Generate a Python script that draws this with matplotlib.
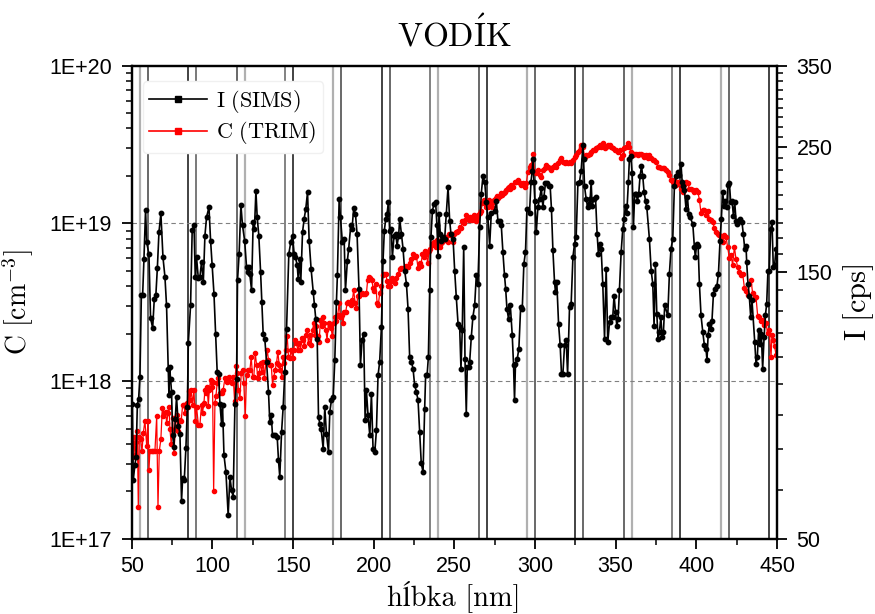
import numpy as np
import matplotlib
matplotlib.use("Agg")
import matplotlib.pyplot as plt
from matplotlib.lines import Line2D
from matplotlib.ticker import FuncFormatter, LogLocator, NullFormatter, FixedLocator, MultipleLocator

plt.rcParams['mathtext.fontset'] = 'cm'

# I (SIMS) -- depth [nm], intensity [cps]
sims_depth = [50.4, 51.0, 52.0, 52.7, 53.5, 54.3, 55.1, 56.0, 56.8, 57.6, 58.6, 59.3, 60.7, 61.7, 63.0, 64.0, 65.0, 65.9,
              66.9, 68.1, 69.4, 70.6, 71.6, 72.7, 73.1, 73.5, 74.1, 74.7, 75.4, 76.2, 77.0, 77.8, 78.9, 79.9, 80.9, 81.6,
              82.6, 83.6, 84.5, 85.1, 86.5, 87.5, 88.6, 89.4, 90.2, 91.3, 92.3, 93.3, 94.4,
              95.4, 96.4, 97.9, 98.9, 99.9, 101.0, 102.0, 103.0, 103.9, 104.7, 105.7, 106.3, 107.2, 108.4, 109.8, 110.9,
              111.9, 112.9, 114.0, 115.0, 115.6, 116.6, 117.7, 118.7, 120.0, 121.2, 121.8, 122.6, 123.2, 124.3, 125.3,
              126.1, 127.0, 127.8, 128.8, 129.9, 130.7, 131.5, 132.5, 133.6, 134.8, 135.6, 136.5, 137.3, 138.7, 140.2,
              141.0, 141.8, 142.9, 143.9, 144.9, 146.0, 147.4, 148.6, 149.7, 150.7, 151.5, 152.6, 153.2, 154.2, 154.8,
              155.9, 156.9, 157.9, 159.0, 160.0, 161.2, 162.5, 163.3, 164.1, 165.0, 165.8, 166.6, 167.4, 168.7, 169.7,
              170.7, 172.0, 172.8, 173.8, 174.9, 175.9, 176.9, 177.5, 178.6, 179.4, 180.6, 181.7, 182.5, 183.7, 184.5,
              185.8, 186.6, 187.6, 188.7, 189.7,
              190.9, 191.8, 192.8, 193.8, 194.7, 195.5, 196.5, 197.6, 198.6, 199.6, 200.7, 201.7, 202.7, 203.7, 204.8,
              205.8, 206.6, 207.5, 208.3, 209.1, 209.9, 210.8, 211.6, 212.6, 213.7, 214.5, 215.5, 216.1, 217.2, 218.2,
              219.2, 220.3, 221.3, 222.3, 223.4, 224.4, 225.4, 226.5, 227.5, 228.5, 229.5, 230.6, 231.6, 232.2, 233.1,
              233.9, 234.7, 235.5, 236.4, 237.4, 238.4, 239.2, 239.9, 240.5, 241.3, 241.9, 243.0, 244.0, 245.0, 246.1,
              247.1, 247.9, 249.2, 250.2, 251.2, 252.3, 253.3, 254.1, 254.9, 255.8, 256.6, 257.4, 258.0, 258.9, 259.5,
              260.5, 261.5, 262.6, 263.6, 264.6, 265.7, 266.7, 267.7, 268.8, 269.8, 270.8, 271.9, 272.9, 275.0, 276.0,
              277.0, 278.1, 279.1, 280.1, 281.1, 281.8, 282.6, 283.6,
              284.7, 285.9, 286.7, 287.3, 287.9, 289.0, 290.0, 291.1, 292.1, 293.1, 294.1, 295.0, 296.6, 297.5, 298.3,
              298.7, 299.3, 299.9, 300.8, 301.8, 302.8, 303.9, 304.9, 305.5, 306.5, 307.4, 308.6, 309.4, 310.2, 311.1,
              312.1, 312.7, 313.5, 314.6, 315.6, 316.4, 317.3, 318.3, 319.3, 320.2, 321.4, 322.4, 323.5, 324.5, 325.5,
              326.6, 327.6, 328.6, 329.7, 330.1, 330.7, 331.7, 332.7, 333.4, 334.2, 334.8, 335.4, 336.5, 337.5, 338.5,
              339.3, 340.0, 341.0, 342.0, 343.1, 344.1, 345.1, 346.2, 347.2, 348.2, 349.0, 349.9, 350.7, 351.5, 352.3,
              353.4, 354.4, 355.2, 356.1, 356.9, 357.9, 358.5, 359.4, 360.2, 361.0, 361.8, 362.7, 363.5, 364.3, 365.1,
              366.0, 366.8, 367.6, 368.5, 369.3,
              370.9, 372.0, 373.0, 373.8, 374.6, 375.5, 376.3, 377.1, 378.0, 378.8, 379.6, 380.4, 382.3, 383.3, 384.3,
              385.4, 386.4, 387.4, 388.5, 389.5, 390.5, 391.2, 392.0, 392.6, 393.6, 394.5, 395.3, 396.1, 397.8, 398.8,
              399.4, 400.2, 401.1, 401.9, 402.9, 404.0, 405.0, 406.0, 406.6, 407.3, 408.1, 409.1, 409.7, 410.6, 411.8,
              412.8, 413.7, 414.7, 415.5, 416.3, 417.2, 418.0, 418.8, 419.6, 420.5, 421.3, 422.1, 423.0, 423.8, 424.6,
              425.4, 426.2, 427.1, 428.3, 429.1, 430.0, 430.8, 431.2, 432.0, 432.8, 433.7, 434.5, 436.2, 437.0, 437.8,
              438.6, 439.5, 440.3, 441.1, 442.0, 442.8, 443.6, 444.4, 445.2, 446.1, 446.9, 447.7, 448.5, 449.4]
sims_cps = [87, 63.8, 67.8, 70, 86.6, 89, 97.3, 136.5, 136.5, 158, 193.5, 169.3, 161, 124, 119, 134, 136.5, 152,
            176.4, 190.6, 159, 147, 130.6, 100.7, 90.2, 101.4, 96.6, 91.5, 76.5, 73, 81.9, 89.6, 79.7, 77.1, 58.5, 64.3,
            63.8, 72.6, 86, 111.9, 130.6, 177.8, 182, 147, 159, 146, 147, 156, 143.7,
            174, 187.6, 195.5, 170.5, 153.9, 137, 116.2, 99.3, 98.6, 87.2, 80.3, 86.6, 70.6, 65.9, 55.2, 64.5,
            61.1, 59.5, 87.2, 96.6, 144.7, 161.4, 197.4, 181.4, 170.5, 152.8, 149.7, 152.8, 148.7, 138.9, 183.8,
            178.9, 209, 187.6, 174, 149.7, 132.3, 116.2, 113.9, 103.5, 91.5, 80.8, 83.1, 76.5, 76.5, 76,
            69.1, 64.5, 77.6, 86, 99.3, 118.7, 161.4, 169.3, 174, 161.4, 159.2, 153.9, 145.7, 158, 143.7,
            176.4, 186.4, 194.1, 207.9, 170.5, 151.8, 137.9, 130.6, 123.6, 113.9, 82.6, 80.3, 78.7, 72.5, 86,
            77.1, 71.5, 84.3, 88.4, 89.6, 104.2, 132.3, 147.7, 202.2, 187.6, 169.3, 171.7, 138.9, 157, 164.8,
            181.4, 178.9, 194.7, 190.2, 175.2,
            139.9, 102.1, 113.1, 116.2, 81.4, 92.1, 83.1, 76.5, 90.8, 72.5, 71.5, 78.1, 97.9, 103.5, 119.5,
            157, 177.6, 186.4, 190.2, 199.5, 177.6, 178.9, 159.2, 174, 175.2, 167, 174, 186.4, 175.2, 164.8,
            150.7, 142.7, 128.8, 105.6, 103.5, 100.7, 94, 91.5, 88.4, 77.6, 68.2, 65.8, 85.4, 97.9, 97.9,
            105.6, 138.9, 172.9, 192.7, 198.2, 199.5, 181.4, 160.3, 190.2, 175.2, 170.5, 172.9, 171.7, 190.2, 212.4,
            185.1, 175.2, 171.7, 150.7, 135.1, 121.1, 119.5, 100.7, 117.8, 165.9, 104.9, 83.7, 101.4, 101.4, 103.5,
            114.6, 124.5, 130.6, 147.7, 142.7, 180.1, 206.6, 222, 217.2, 199.5, 187.6, 167, 190.9, 192.7, 200.8,
            185.1, 185.1, 181.4, 162.6, 147.7, 139.9, 128.8, 123.6,
            130.6, 115.4, 102.1, 88.4, 102.8, 104.9, 109.3, 129.7, 128.8, 155, 162.6, 194.1, 190.9, 217.2, 227.2,
            238.2, 217.2, 200.8, 176.4, 195.5, 202.2, 211.3, 195.5, 203.8, 215.9, 215.9, 213, 213, 194.1, 163.7,
            143.7, 137.9, 143.7, 121.1, 110.8, 98.6, 98.6, 110.8, 113.1, 98.6, 129.7, 131.4, 159.2, 168.2, 172.9,
            215.9, 217.2, 227.2, 252.6, 238.2, 213, 202.2, 195.5, 198.2, 202.2, 217.2, 196.8, 202.2, 203.8, 175.2,
            161.4, 168.2, 164.8, 142.7, 113.9, 151.8, 112.3, 121.9, 124.5, 124.5, 136, 127, 120.2, 123.6, 138.9,
            162.6, 178.9, 186.4, 196.8, 190.9, 217.2, 238.2, 241.5, 224.6, 180.1, 206.6, 206.6, 200.8, 206.6, 222,
            231.3, 222, 208.2, 200.8, 195.5,
            171.7, 150.7, 142.7, 120.2, 155, 126.1, 113.9, 117, 124.5, 114.6, 117, 130.6, 125.3, 148.7, 164.8,
            171.7, 213, 222, 225.9, 223.3, 233.7, 217.2, 213, 210.2, 194.1, 203.8, 190.2, 187.6, 182.6, 165.9,
            159.2, 168.2, 167, 142.7, 125.3, 117, 110.8, 109.3, 104.2, 115.4, 121.1, 118.6, 122.7, 137, 139.9,
            141.7, 148.7, 170.5, 186.4, 208.2, 196.8, 200.8, 195.5, 214.4, 215.9, 199.5, 200.8, 188.9, 199.5, 185.1,
            182.6, 185.1, 186.4, 183.8, 175.2, 164.8, 167, 156, 142.7, 136, 124.5, 133.3, 112.3, 102.8, 105.6,
            117.8, 111.5, 116.2, 100.7, 114.6, 125.3, 131.4, 150.7, 150.7, 178.9, 183.8, 152.8, 153.9, 164.8]

# C (TRIM) -- depth [nm], concentration [cm^-3]
trim_depth = [50.0, 50.6, 51.4, 52.0, 52.7, 53.5, 54.1, 54.7, 55.5, 56.4, 57.2, 58.2, 59.3, 60.1, 60.7, 61.3, 62.4,
              63.4, 64.4, 65.5, 66.3, 67.1, 68.1, 69.0, 69.6, 70.2, 71.0, 71.7, 72.5, 73.1, 73.7, 74.5, 75.4, 76.2,
              77.0, 77.8, 78.9, 79.9, 80.7, 81.6, 82.4, 83.0, 84.0, 84.9, 85.7, 86.1, 86.9, 87.7, 88.6, 89.4, 90.2,
              91.3,
              92.3, 93.3, 93.9, 94.8, 95.4, 96.0, 96.8, 97.5, 98.1, 98.9, 99.5, 100.1, 100.8, 101.6, 102.2, 103.0,
              103.6, 104.7, 105.7, 106.7, 107.8, 108.8, 109.6, 110.5, 111.3, 112.1, 112.9, 113.8, 114.6, 115.4, 116.2,
              117.1, 117.9, 118.7, 119.5, 120.4, 121.2, 122.2, 123.3, 124.1, 124.9, 125.7, 126.6, 127.4, 128.2, 129.0,
              129.9, 130.7, 131.5, 132.3, 133.2, 134.0, 134.8, 135.6, 136.5, 137.3, 138.1, 138.9, 139.8, 140.6, 141.4,
              142.2, 143.1, 143.9, 144.7, 145.5, 146.4, 147.2, 148.0, 148.8, 149.7, 150.5, 151.3, 152.1, 153.0, 153.8,
              154.6, 155.4, 156.3, 157.1, 157.9, 158.7, 159.6, 160.4, 161.2, 162.1, 162.9, 163.7, 164.5, 165.4, 166.2,
              167.0, 167.8, 168.7, 169.5, 170.3, 171.1, 172.0, 172.8, 173.6, 174.4, 175.3, 176.1, 176.9, 177.7, 178.6,
              179.4, 180.2, 181.0, 181.9, 182.7, 183.5, 184.3, 185.2, 186.0, 186.8, 187.6, 188.5, 189.3, 190.1,
              191.0, 191.8, 192.6, 193.4, 194.5, 195.5, 196.3, 197.1, 198.0, 198.8, 199.6, 200.4, 201.3, 202.1, 202.9,
              203.7, 204.8, 205.8, 206.6, 207.5, 208.3, 209.1, 209.9, 210.8, 211.6, 212.4, 213.2, 214.1, 215.1, 216.1,
              217.2, 218.2, 219.2, 220.3, 221.3, 222.3, 223.4, 224.4, 225.4, 226.5, 227.5, 228.5, 229.3, 230.2, 231.0,
              231.8, 232.6, 233.5, 234.3, 235.1, 235.9, 236.8, 237.6, 238.4, 239.3, 240.1, 240.9, 241.7, 242.6, 243.4,
              244.2, 245.0, 245.9, 246.7, 247.5, 248.3, 249.2, 250.0, 250.8, 251.6, 252.5, 253.3, 254.1, 254.9, 255.8,
              256.6, 257.4, 258.2, 259.1, 259.9, 260.7, 261.5, 262.4, 263.2, 264.0, 264.8, 265.7, 266.5, 267.3, 268.1,
              269.0, 269.8, 270.6, 271.4, 272.3, 273.1, 273.9, 274.8, 275.6, 276.4, 277.2, 278.1, 278.9, 279.7, 280.5,
              281.4, 282.2, 283.0, 283.8,
              284.2, 285.3, 286.3, 287.3, 288.4, 289.4, 290.4, 291.5, 292.5, 293.5, 294.6, 295.6, 296.6, 297.7, 298.7,
              299.7, 300.8, 301.8, 302.8, 303.9, 304.9, 305.9, 306.9, 308.0, 309.0, 310.0, 311.1, 312.1, 313.1, 314.2,
              315.2, 316.2, 317.3, 318.3, 319.3, 320.4, 321.4, 322.4, 323.5, 324.5, 325.5, 326.6, 327.6, 328.2, 328.8,
              329.7, 330.7, 331.7, 332.8, 333.8, 334.8, 335.8, 336.9, 337.9, 338.9, 340.0, 341.0, 342.0, 343.1, 344.1,
              345.1, 346.2, 347.2, 348.2, 349.3, 350.3, 351.3, 352.4, 353.4, 354.4, 355.4, 356.5, 357.5, 358.5, 359.6,
              360.6, 361.6, 362.7, 363.7, 364.7, 365.8, 366.8, 367.8, 368.9, 369.9, 370.9, 372.0, 373.0, 374.0, 375.1,
              376.1,
              377.1, 378.2, 379.2, 380.2, 381.2, 382.3, 383.3, 384.3, 385.4, 386.4, 387.4, 388.5, 389.5, 390.5, 391.6,
              392.6, 393.6, 394.7, 395.7, 396.7, 397.8, 398.8, 399.8, 400.9, 401.9, 402.9, 404.0, 405.0, 406.0, 407.1,
              408.1, 409.1, 410.1, 411.2, 412.2, 413.2, 414.3, 415.3, 416.3, 417.4, 418.4, 419.4, 420.5, 421.5, 422.5,
              423.6, 424.6, 425.6, 426.7, 427.7, 428.7, 429.8, 430.8, 431.8, 432.9, 433.9, 434.9, 436.0, 437.0, 438.0,
              439.0, 440.1, 441.1, 442.1, 443.2, 444.2, 445.2, 446.3, 446.9, 447.7, 448.5, 449.4]
trim_conc = [4.0e17, 3.3e17, 4.4e17, 3.4e17, 4.1e17, 4.8e17, 1.6e17, 4.4e17, 4.3e17, 3.6e17, 4.7e17, 5.6e17, 3.9e17,
             5.6e17, 2.75e17, 3.6e17, 3.6e17, 3.6e17, 3.6e17, 6.0e17, 1.6e17, 3.6e17, 4.3e17, 6.8e17, 6.0e17, 6.3e17,
             6.4e17, 5.4e17, 6.3e17, 6.9e17, 5.0e17, 4.0e17, 5.8e17, 3.5e17, 5.0e17, 6.1e17, 4.8e17, 5.7e17, 5.6e17,
             7.1e17, 7.1e17, 6.3e17, 7.3e17, 6.9e17, 8.6e17, 7.6e17, 8.8e17, 7.1e17, 8.8e17, 5.6e17, 6.9e17, 5.3e17,
             5.3e17, 7.1e17, 6.3e17, 7.3e17, 8.8e17, 8.4e17, 9.2e17, 7.0e17, 8.8e17, 1.02e18, 9.2e17, 9.9e17, 2.0e17,
             7.3e17, 8.0e17, 9.7e17, 1.04e18, 8.4e17, 8.4e17, 8.8e17, 1.04e18, 9.9e17, 1.04e18, 1.07e18, 9.9e17,
             9.7e17, 1.07e18, 7.5e17, 1.24e18, 1.12e18, 8.8e17, 7.8e17, 1.12e18, 1.18e18, 9.7e17, 6.0e17, 1.09e18,
             1.18e18, 1.18e18, 1.43e18, 1.07e18, 1.07e18, 1.50e18, 1.27e18, 1.04e18, 1.12e18, 1.30e18, 1.15e18,
             1.33e18, 1.04e18, 1.33e18, 1.58e18, 1.36e18, 1.27e18, 1.27e18, 9.5e17, 1.07e18, 1.18e18, 1.30e18,
             1.54e18, 1.27e18, 1.18e18, 1.07e18, 1.43e18, 1.30e18, 1.58e18, 1.92e18, 1.43e18, 1.40e18, 1.58e18,
             1.40e18, 1.58e18, 1.83e18, 1.74e18, 1.58e18, 1.74e18, 1.58e18, 1.87e18, 1.83e18, 1.66e18, 1.96e18,
             2.11e18, 1.74e18, 1.96e18, 1.70e18, 2.11e18, 2.33e18, 1.96e18, 2.22e18, 1.92e18, 1.78e18, 2.44e18,
             2.22e18, 2.56e18, 2.33e18, 2.11e18, 1.83e18, 2.33e18, 2.22e18, 2.17e18, 1.92e18, 2.33e18, 2.56e18,
             2.39e18, 2.63e18, 3.11e18, 2.56e18, 2.63e18, 2.33e18, 2.76e18, 2.76e18, 3.11e18, 3.18e18, 3.11e18,
             3.04e18, 3.26e18, 3.78e18, 3.11e18, 2.90e18, 3.44e18,
             3.45e18, 3.6e18, 3.6e18, 3.55e18, 3.55e18, 3.6e18, 4.4e18, 4.6e18, 4.5e18, 4.4e18, 3.9e18, 3.7e18, 4.1e18,
             3.15e18, 3.05e18, 3.6e18, 4.0e18, 4.7e18, 4.8e18, 4.8e18, 4.3e18, 4.0e18, 4.0e18, 4.3e18, 4.5e18, 4.4e18,
             4.2e18, 4.5e18, 4.8e18, 5.1e18, 5.2e18, 5.2e18, 5.2e18, 5.4e18, 5.3e18, 5.6e18, 5.9e18, 6.4e18, 6.1e18,
             6.2e18, 5.2e18, 5.6e18, 5.4e18, 6.4e18, 6.1e18, 6.7e18, 6.4e18, 5.6e18, 6.7e18, 6.9e18, 7.3e18, 7.5e18,
             7.6e18, 7.1e18, 7.8e18, 7.5e18, 7.1e18, 7.5e18, 7.6e18, 7.8e18, 8.2e18, 7.8e18, 7.6e18, 8.6e18, 8.4e18,
             8.6e18, 7.6e18, 8.6e18, 8.8e18, 8.8e18, 9.0e18, 9.5e18, 9.3e18, 1.03e19, 1.0e19, 1.05e19, 1.13e19,
             1.08e19, 1.05e19, 1.10e19, 1.05e19, 1.10e19, 1.13e19, 1.03e19, 1.10e19, 1.13e19, 1.16e19, 1.19e19,
             1.34e19, 1.41e19, 1.34e19, 1.27e19, 1.27e19, 1.41e19, 1.34e19, 1.27e19, 1.37e19, 1.41e19, 1.44e19,
             1.48e19, 1.44e19, 1.48e19, 1.55e19, 1.52e19, 1.55e19, 1.59e19, 1.63e19, 1.67e19, 1.71e19,
             1.66e19, 1.75e19, 1.71e19, 1.84e19, 1.84e19, 1.88e19, 1.79e19, 1.75e19, 1.79e19, 1.71e19, 1.79e19,
             2.12e19, 2.28e19, 2.34e19, 2.77e19, 2.12e19, 2.07e19, 2.17e19, 2.02e19, 1.97e19, 2.17e19, 2.23e19,
             2.34e19, 2.28e19, 2.23e19, 2.17e19, 2.28e19, 2.34e19, 2.28e19, 2.40e19, 2.52e19, 2.58e19, 2.46e19,
             2.40e19, 2.46e19, 2.40e19, 2.46e19, 2.40e19, 2.52e19, 2.64e19, 2.71e19, 2.84e19, 2.91e19, 3.13e19,
             3.06e19, 3.06e19, 2.64e19, 2.71e19, 2.71e19, 2.77e19, 2.84e19, 2.91e19, 2.91e19, 2.98e19, 3.06e19,
             3.13e19, 3.06e19, 3.21e19, 2.98e19, 3.06e19, 3.13e19, 3.13e19, 3.06e19, 2.98e19, 2.91e19, 2.91e19,
             2.84e19, 2.91e19, 2.58e19, 2.71e19, 2.98e19, 3.06e19, 3.21e19, 3.06e19, 2.84e19, 2.71e19, 2.77e19,
             2.77e19, 2.71e19, 2.77e19, 2.77e19, 2.71e19, 2.64e19, 2.71e19, 2.58e19, 2.71e19, 2.58e19, 2.52e19,
             2.52e19, 2.46e19, 2.28e19,
             2.28e19, 2.23e19, 2.23e19, 2.23e19, 2.17e19, 2.12e19, 2.02e19, 1.88e19, 1.84e19, 1.88e19, 1.75e19,
             1.84e19, 1.79e19, 1.66e19, 1.59e19, 1.75e19, 1.84e19, 1.79e19, 1.66e19, 1.66e19, 1.63e19, 1.59e19,
             1.63e19, 1.59e19, 1.41e19, 1.16e19, 1.22e19, 1.22e19, 1.13e19, 1.19e19, 1.07e19, 1.05e19, 1.02e19,
             9.3e18, 8.85e18, 8.6e18, 8.4e18, 8.0e18, 7.65e18, 8.4e18, 8.2e18, 7.1e18, 6.0e18, 6.3e18, 5.45e18,
             7.1e18, 5.9e18, 5.3e18, 4.9e18, 4.7e18, 4.8e18, 3.9e18, 3.7e18, 3.5e18, 4.1e18, 4.4e18, 3.6e18, 3.3e18,
             3.4e18, 2.6e18, 2.56e18, 2.4e18, 2.45e18, 2.27e18, 2.33e18, 2.01e18, 2.11e18, 1.43e18, 1.96e18, 1.83e18,
             1.66e18, 1.47e18]

# vertical marker lines (pairs) and their shades
vline_pos = [55, 60, 85, 90, 115, 120, 145, 150, 175, 180, 205, 210, 235, 240, 265, 270,
             295, 300, 325, 330, 355, 360, 385, 390, 415, 420, 445]
vline_col = ['#b0b0b0', '#404040', '#101010', '#555555', '#404040', '#b0b0b0', '#606060', '#101010',
             '#b0b0b0', '#404040', '#101010', '#404040', '#606060', '#b0b0b0', '#404040', '#101010',
             '#b0b0b0', '#404040', '#101010', '#404040', '#404040', '#b0b0b0', '#606060', '#101010',
             '#b0b0b0', '#404040', '#101010']

fig = plt.figure(figsize=(8.75, 6.14), dpi=100)
ax = fig.add_axes([0.1505, 0.1222, 0.7375, 0.7711])

for xv, cv in zip(vline_pos, vline_col):
    lw = 1.6 if cv == '#b0b0b0' else 1.1
    ax.axvline(xv, color=cv, lw=lw, zorder=1)
for yv in [1e18, 1e19]:
    ax.axhline(yv, color='#808080', lw=0.8, ls=(0, (4, 3)), zorder=1)

ax.plot(trim_depth, trim_conc, color='#ff0000', lw=0.9, marker='o', ms=3.0, mec='#ff0000', zorder=3)

ax.set_yscale('log')
ax.set_xlim(50, 450)
ax.set_ylim(1e17, 1e20)
ax.yaxis.set_major_locator(FixedLocator([1e17, 1e18, 1e19, 1e20]))
ax.yaxis.set_major_formatter(FuncFormatter(lambda v, p: '1E+%d' % round(np.log10(v))))
ax.yaxis.set_minor_locator(LogLocator(base=10, subs=range(2, 10)))
ax.yaxis.set_minor_formatter(NullFormatter())
ax.xaxis.set_major_locator(MultipleLocator(50))
ax.xaxis.set_minor_locator(MultipleLocator(25))

ax2 = ax.twinx()
ax2.plot(sims_depth, sims_cps, color='black', lw=1.2, marker='o', ms=3.2, zorder=3)
ax2.set_yscale('log')
ax2.set_ylim(50, 350)
ax2.yaxis.set_major_locator(FixedLocator([50, 150, 250, 350]))
ax2.yaxis.set_major_formatter(FuncFormatter(lambda v, p: '%d' % round(v)))
minor_r = [lo + k * 100 / 9 for lo in (50, 150, 250) for k in range(1, 9)]
ax2.yaxis.set_minor_locator(FixedLocator(minor_r))
ax2.yaxis.set_minor_formatter(NullFormatter())

for a in (ax, ax2):
    a.tick_params(which='major', direction='out', length=7, width=1.3, labelsize=15.5, pad=7)
    a.tick_params(which='minor', direction='out', length=4.5, width=1.1)
    for lab in a.get_xticklabels() + a.get_yticklabels():
        lab.set_fontfamily('Liberation Sans')
    for s in a.spines.values():
        s.set_linewidth(1.6)
ax.tick_params(axis='x', which='major', pad=5)

# x label in a CM-like serif, the accented letter comes from the fallback font
fig.text(0.519, 0.004, 'hĺbka [nm]', fontsize=20.5, ha='center', va='bottom',
         family=['cmr10', 'STIXGeneral'])
ax.set_ylabel(r'$\mathrm{C}\ [\mathrm{cm}^{-3}]$', fontsize=20, labelpad=10)
ax2.set_ylabel(r'$\mathrm{I}\ [\mathrm{cps}]$', fontsize=22, labelpad=6)
ax.set_title(r'$\mathrm{VOD\acute{I}K}$', fontsize=24, pad=14)

handles = [Line2D([], [], color='black', lw=1.2, marker='s', ms=5),
           Line2D([], [], color='#ff0000', lw=1.2, marker='s', ms=5)]
leg = ax2.legend(handles, [r'$\mathrm{I\ (SIMS)}$', r'$\mathrm{C\ (TRIM)}$'], loc='upper left',
                 bbox_to_anchor=(0.0, 0.99), fontsize=16, handlelength=2.6, handletextpad=0.4,
                 labelspacing=0.2, borderpad=0.3, frameon=True, fancybox=True, framealpha=1.0,
                 edgecolor='#f0f0f0')

fig.savefig('out.png', dpi=100)
